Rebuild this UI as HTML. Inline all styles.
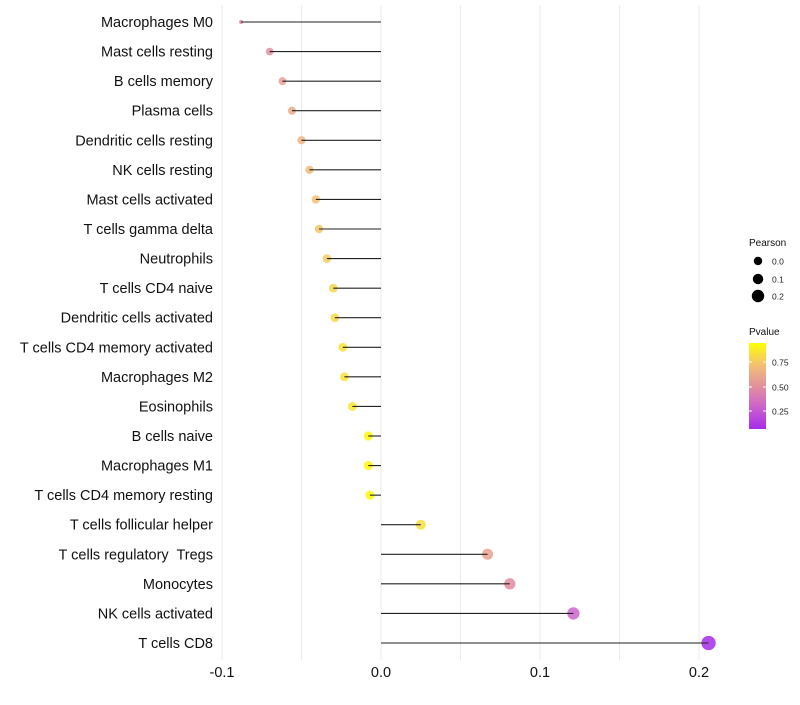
<!DOCTYPE html>
<html><head><meta charset="utf-8"><style>
body{margin:0;background:#fff;font-family:"Liberation Sans",sans-serif}
</style></head><body>
<svg id="chart" width="800" height="700" xmlns="http://www.w3.org/2000/svg" font-family="Liberation Sans, sans-serif"></svg>
<script>
const categories=["Macrophages M0","Mast cells resting","B cells memory","Plasma cells","Dendritic cells resting","NK cells resting","Mast cells activated","T cells gamma delta","Neutrophils","T cells CD4 naive","Dendritic cells activated","T cells CD4 memory activated","Macrophages M2","Eosinophils","B cells naive","Macrophages M1","T cells CD4 memory resting","T cells follicular helper","T cells regulatory  Tregs","Monocytes","NK cells activated","T cells CD8"];
const pearson=[-0.088,-0.070,-0.062,-0.056,-0.050,-0.045,-0.041,-0.039,-0.034,-0.030,-0.029,-0.024,-0.023,-0.018,-0.008,-0.008,-0.007,0.025,0.067,0.081,0.121,0.206];
const pvalue=[0.45,0.52,0.6,0.65,0.7,0.74,0.76,0.78,0.8,0.84,0.85,0.88,0.88,0.9,0.97,0.97,0.98,0.87,0.6,0.5,0.3,0.05];
const xTicks=[-0.1,0.0,0.1,0.2];
const xTickLabels=["-0.1","0.0","0.1","0.2"];
const NS="http://www.w3.org/2000/svg";
const svg=document.getElementById('chart');
const x=v=>381+v*1590;
const y=i=>22+i*(621/21);
const rad=v=>v<-0.08?2:4.7+12*v;
function lerp(a,b,t){return a.map((c,i)=>Math.round(c+(b[i]-c)*t));}
function col(p){const s=[[0,[160,32,240]],[0.3,[204,100,204]],[0.5,[224,140,160]],[0.75,[242,190,120]],[1,[255,255,0]]];
for(let k=0;k<s.length-1;k++){if(p<=s[k+1][0]){const t=Math.max(0,(p-s[k][0])/(s[k+1][0]-s[k][0]));return 'rgb('+lerp(s[k][1],s[k+1][1],t).join(',')+')';}}return 'rgb(255,255,0)';}
function mk(t,a,p){const e=document.createElementNS(NS,t);for(const k in a)e.setAttribute(k,a[k]);(p||svg).appendChild(e);return e;}
[-0.1,-0.05,0,0.05,0.1,0.15,0.2].forEach(v=>{const g=mk('line',{x1:x(v),x2:x(v),y1:5,y2:660,stroke:'#ebebeb','stroke-width':1});

});
categories.forEach((c,i)=>{
const d=mk('circle',{cx:x(pearson[i]),cy:y(i),r:rad(pearson[i]),fill:col(pvalue[i]),'fill-opacity':0.85});


const l=mk('line',{x1:x(0),x2:x(pearson[i]),y1:y(i),y2:y(i),stroke:'#222','stroke-width':1.1});


const t=mk('text',{x:213,y:y(i)+5,'text-anchor':'end','font-size':14.5,fill:'#111'});t.textContent=c;
t.setAttribute('xml:space','preserve');t.style.whiteSpace='pre';


});
xTicks.forEach((v,i)=>{const t=mk('text',{x:x(v),y:677,'text-anchor':'middle','font-size':14.5,fill:'#111'});t.textContent=xTickLabels[i];

});
const lt=mk('text',{x:749,y:246,'font-size':10,fill:'#111'});lt.textContent='Pearson';


[[0.0,"0.0",261,4.2],[0.1,"0.1",279,5.2],[0.2,"0.2",296,6.2]].forEach(a=>{
const c=mk('circle',{cx:758,cy:a[2],r:a[3],fill:'#000'});


const t=mk('text',{x:772,y:a[2]+3.5,'font-size':8.5,fill:'#222'});t.textContent=a[1];

});
const pt=mk('text',{x:749,y:335,'font-size':10,fill:'#111'});pt.textContent='Pvalue';


const defs=mk('defs',{});const lg=mk('linearGradient',{id:'pg',x1:0,y1:1,x2:0,y2:0},defs);
for(let k=0;k<=10;k++){const p=0.05+k*0.095;mk('stop',{offset:k/10,'stop-color':col(p)},lg);}
const cb=mk('rect',{x:749,y:343,width:17,height:86,fill:'url(#pg)'});


[["0.75",362],["0.50",387],["0.25",411]].forEach(a=>{
mk('line',{x1:749,x2:752,y1:a[1],y2:a[1],stroke:'#fff'});mk('line',{x1:763,x2:766,y1:a[1],y2:a[1],stroke:'#fff'});
const t=mk('text',{x:772,y:a[1]+3.5,'font-size':8.5,fill:'#222'});t.textContent=a[0];

});
</script>
</body></html>
